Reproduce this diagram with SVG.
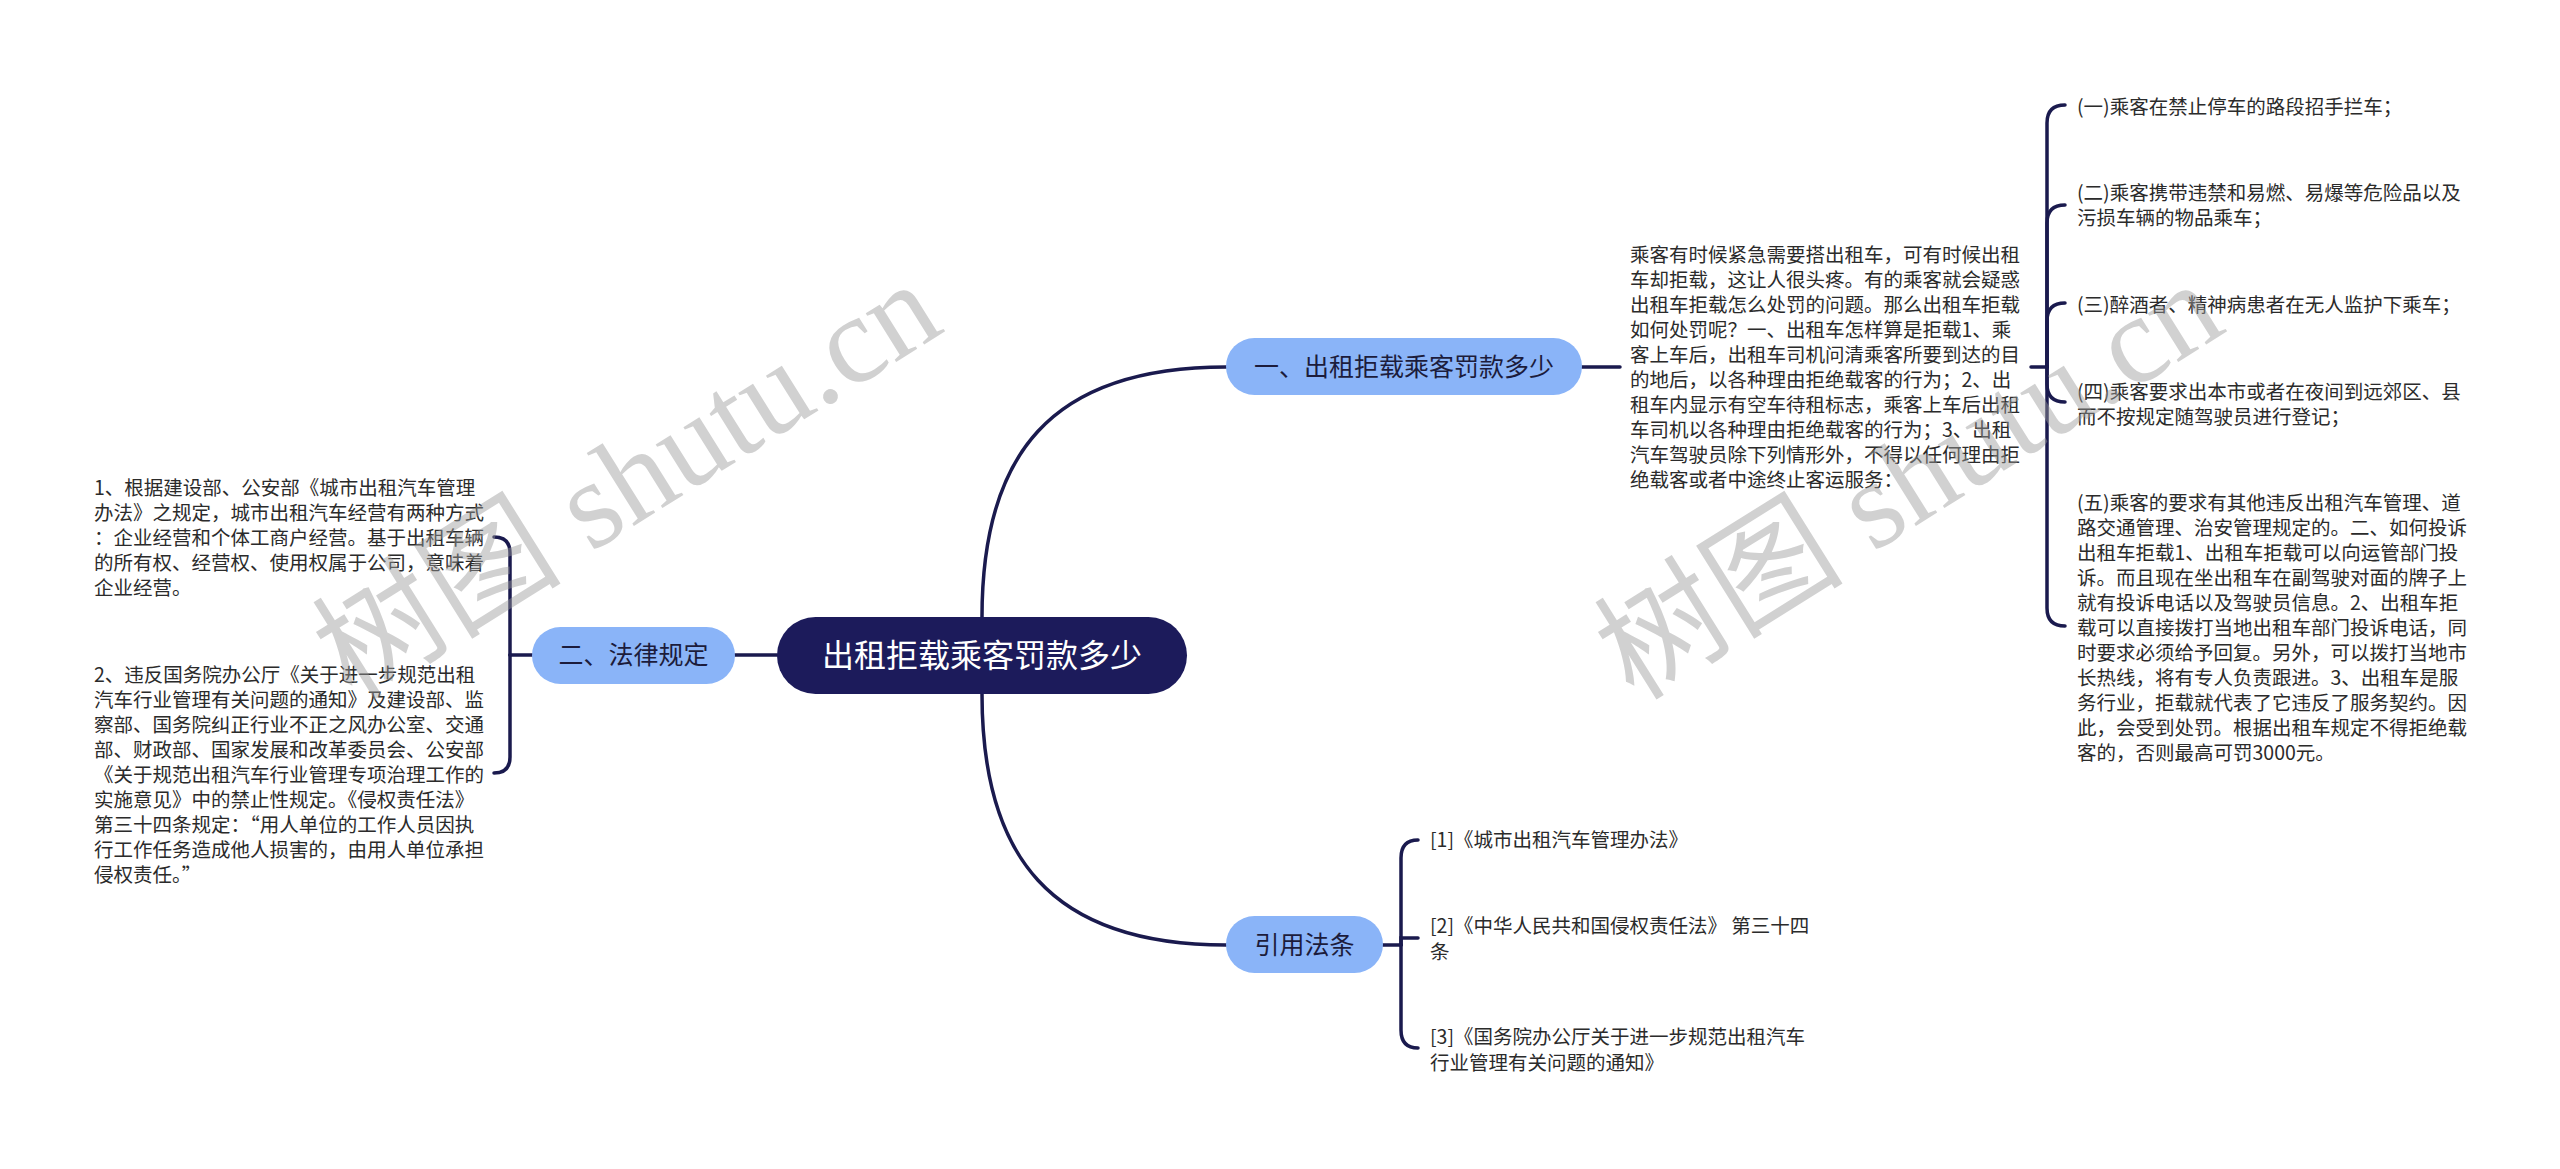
<svg xmlns="http://www.w3.org/2000/svg" width="2560" height="1169" viewBox="0 0 2560 1169">
<style>
.bg{fill:#ffffff}
.conn{fill:none;stroke:#1a1a4e;stroke-width:3.5;stroke-linecap:round}
.root{fill:#1c1b5b}
.rootText{font-family:"Noto Sans CJK SC","Microsoft YaHei",sans-serif;font-size:32px;fill:#ffffff;text-anchor:middle}
.branch{fill:#8ab4f8}
.branchText{font-family:"Noto Sans CJK SC","Microsoft YaHei",sans-serif;font-size:25px;fill:#1c1c3c;text-anchor:middle}
.leaf{font-family:"Noto Sans CJK SC","Microsoft YaHei",sans-serif;font-size:19.5px;fill:#2b2b2b}
.wm{font-family:"Liberation Serif","Noto Sans CJK SC",serif;font-size:125px;fill:#9a9a9a;opacity:0.45}
</style>
<rect class="bg" x="0" y="0" width="2560" height="1169"/>

<g id="connectors">
  <path class="conn" d="M982 617 C982 455 1050 367 1226 367"/>
  <path class="conn" d="M982 694 C982 856 1050 945 1226 945"/>
  <path class="conn" d="M777 655 L735 655"/>
  <path class="conn" d="M1582 367 L1620 367"/>
  <path class="conn" d="M2031 367 L2047 367"/>
  <path class="conn" d="M2047 367 L2047 123 Q2047 105 2065 105"/>
  <path class="conn" d="M2047 367 L2047 223 Q2047 205 2065 205"/>
  <path class="conn" d="M2047 367 L2047 321 Q2047 303 2065 303"/>
  <path class="conn" d="M2047 367 L2047 384 Q2047 402 2065 402"/>
  <path class="conn" d="M2047 367 L2047 608 Q2047 626 2065 626"/>
  <path class="conn" d="M532 655 L510 655"/>
  <path class="conn" d="M510 655 L510 553 Q510 537 494 537"/>
  <path class="conn" d="M510 655 L510 757 Q510 773 494 773"/>
  <path class="conn" d="M1383 945 L1401 945"/>
  <path class="conn" d="M1401 945 L1401 858 Q1401 840 1418 840"/>
  <path class="conn" d="M1401 945 L1401 938 L1418 938"/>
  <path class="conn" d="M1401 945 L1401 1030 Q1401 1048 1418 1048"/>
</g>

<g id="root">
  <rect class="root" x="777" y="617" width="410" height="77" rx="38.5"/>
  <text class="rootText" x="982" y="667">出租拒载乘客罚款多少</text>
</g>

<g id="branch1">
  <rect class="branch" x="1226" y="338" width="356" height="57" rx="28.5"/>
  <text class="branchText" x="1404" y="376">一、出租拒载乘客罚款多少</text>
</g>

<g id="branch2">
  <rect class="branch" x="532" y="627" width="203" height="57" rx="28.5"/>
  <text class="branchText" x="633.5" y="664">二、法律规定</text>
</g>

<g id="branch3">
  <rect class="branch" x="1226" y="916" width="157" height="57" rx="28.5"/>
  <text class="branchText" x="1304.5" y="954">引用法条</text>
</g>

<g id="b1-text">
  <text class="leaf" x="1630">
    <tspan x="1630" y="262">乘客有时候紧急需要搭出租车，可有时候出租</tspan>
    <tspan x="1630" y="287">车却拒载，这让人很头疼。有的乘客就会疑惑</tspan>
    <tspan x="1630" y="312">出租车拒载怎么处罚的问题。那么出租车拒载</tspan>
    <tspan x="1630" y="337">如何处罚呢？一、出租车怎样算是拒载1、乘</tspan>
    <tspan x="1630" y="362">客上车后，出租车司机问清乘客所要到达的目</tspan>
    <tspan x="1630" y="387">的地后，以各种理由拒绝载客的行为；2、出</tspan>
    <tspan x="1630" y="412">租车内显示有空车待租标志，乘客上车后出租</tspan>
    <tspan x="1630" y="437">车司机以各种理由拒绝载客的行为；3、出租</tspan>
    <tspan x="1630" y="462">汽车驾驶员除下列情形外，不得以任何理由拒</tspan>
    <tspan x="1630" y="487">绝载客或者中途终止客运服务：</tspan>
  </text>
</g>

<g id="item1">
  <text class="leaf" x="2077" y="114">(一)乘客在禁止停车的路段招手拦车；</text>
</g>
<g id="item2">
  <text class="leaf">
    <tspan x="2077" y="200">(二)乘客携带违禁和易燃、易爆等危险品以及</tspan>
    <tspan x="2077" y="225">污损车辆的物品乘车；</tspan>
  </text>
</g>
<g id="item3">
  <text class="leaf" x="2077" y="312">(三)醉酒者、精神病患者在无人监护下乘车；</text>
</g>
<g id="item4">
  <text class="leaf">
    <tspan x="2077" y="399">(四)乘客要求出本市或者在夜间到远郊区、县</tspan>
    <tspan x="2077" y="424">而不按规定随驾驶员进行登记；</tspan>
  </text>
</g>
<g id="item5">
  <text class="leaf">
    <tspan x="2077" y="510">(五)乘客的要求有其他违反出租汽车管理、道</tspan>
    <tspan x="2077" y="535">路交通管理、治安管理规定的。二、如何投诉</tspan>
    <tspan x="2077" y="560">出租车拒载1、出租车拒载可以向运管部门投</tspan>
    <tspan x="2077" y="585">诉。而且现在坐出租车在副驾驶对面的牌子上</tspan>
    <tspan x="2077" y="610">就有投诉电话以及驾驶员信息。2、出租车拒</tspan>
    <tspan x="2077" y="635">载可以直接拨打当地出租车部门投诉电话，同</tspan>
    <tspan x="2077" y="660">时要求必须给予回复。另外，可以拨打当地市</tspan>
    <tspan x="2077" y="685">长热线，将有专人负责跟进。3、出租车是服</tspan>
    <tspan x="2077" y="710">务行业，拒载就代表了它违反了服务契约。因</tspan>
    <tspan x="2077" y="735">此，会受到处罚。根据出租车规定不得拒绝载</tspan>
    <tspan x="2077" y="760">客的，否则最高可罚3000元。</tspan>
  </text>
</g>

<g id="law1">
  <text class="leaf">
    <tspan x="94" y="495">1、根据建设部、公安部《城市出租汽车管理</tspan>
    <tspan x="94" y="520">办法》之规定，城市出租汽车经营有两种方式</tspan>
    <tspan x="94" y="545">：企业经营和个体工商户经营。基于出租车辆</tspan>
    <tspan x="94" y="570">的所有权、经营权、使用权属于公司，意味着</tspan>
    <tspan x="94" y="595">企业经营。</tspan>
  </text>
</g>
<g id="law2">
  <text class="leaf">
    <tspan x="94" y="682">2、违反国务院办公厅《关于进一步规范出租</tspan>
    <tspan x="94" y="707">汽车行业管理有关问题的通知》及建设部、监</tspan>
    <tspan x="94" y="732">察部、国务院纠正行业不正之风办公室、交通</tspan>
    <tspan x="94" y="757">部、财政部、国家发展和改革委员会、公安部</tspan>
    <tspan x="94" y="782">《关于规范出租汽车行业管理专项治理工作的</tspan>
    <tspan x="94" y="807">实施意见》中的禁止性规定。《侵权责任法》</tspan>
    <tspan x="94" y="832">第三十四条规定：“用人单位的工作人员因执</tspan>
    <tspan x="94" y="857">行工作任务造成他人损害的，由用人单位承担</tspan>
    <tspan x="94" y="882">侵权责任。”</tspan>
  </text>
</g>

<g id="ref1">
  <text class="leaf" x="1430" y="847">[1]《城市出租汽车管理办法》</text>
</g>
<g id="ref2">
  <text class="leaf">
    <tspan x="1430" y="933">[2]《中华人民共和国侵权责任法》 第三十四</tspan>
    <tspan x="1430" y="959">条</tspan>
  </text>
</g>
<g id="ref3">
  <text class="leaf">
    <tspan x="1430" y="1044">[3]《国务院办公厅关于进一步规范出租汽车</tspan>
    <tspan x="1430" y="1070">行业管理有关问题的通知》</tspan>
  </text>
</g>

<g id="watermarks">
  <text class="wm" transform="translate(352 702) rotate(-32)">树图 shutu.cn</text>
  <text class="wm" transform="translate(1634 702) rotate(-32)">树图 shutu.cn</text>
</g>
</svg>
